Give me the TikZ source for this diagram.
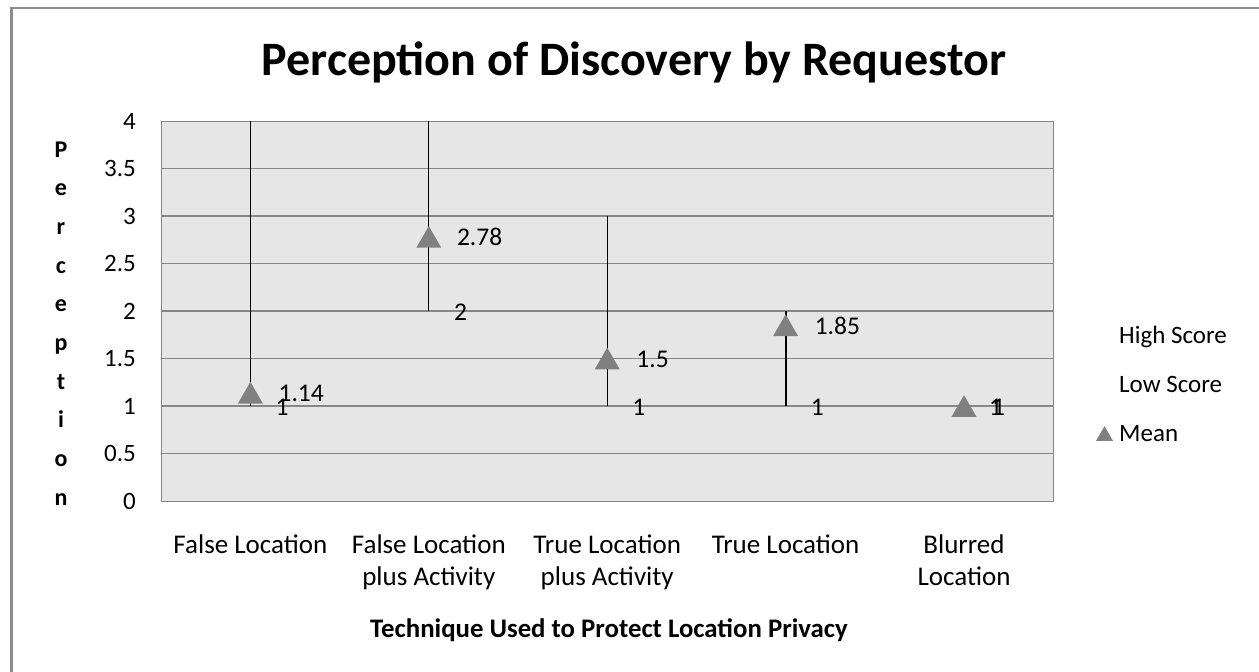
\documentclass[tikz,border=0pt]{standalone}
\usepackage{fontspec}
\setmainfont{Carlito}
\usetikzlibrary{shapes.geometric}
\definecolor{plotbg}{RGB}{230,230,230}
\definecolor{gridgray}{RGB}{134,134,134}
\definecolor{markgray}{RGB}{128,128,128}
\definecolor{framegray}{RGB}{140,140,140}
\begin{document}
\begin{tikzpicture}[x=1pt,y=-1pt,
  gridminor/.style={draw=gridgray, line width=1pt},
  gridmajor/.style={draw=gridgray, line width=1.7pt},
  hiloline/.style={draw=black, line width=1.1pt},
  meanmark/.style={regular polygon, regular polygon sides=3, fill=markgray,
    draw=none, minimum size=28.9pt, inner sep=0pt, yshift=-3.6pt},
  ticklab/.style={font=\fontsize{25}{30}\selectfont, anchor=base east, inner sep=0pt},
  vallab/.style={font=\fontsize{25.5}{30}\selectfont, anchor=base west, inner sep=0pt},
  catlab/.style={font=\fontsize{27}{32}\selectfont, anchor=base, inner sep=0pt},
  leglab/.style={font=\fontsize{25}{30}\selectfont, anchor=base west, inner sep=0pt},
  axtitle/.style={font=\bfseries\fontsize{24}{28}\selectfont, anchor=base, inner sep=0pt}]
\useasboundingbox (0,0) rectangle (1259,672);
\fill[white] (0,0) rectangle (1259,672);

% chart frame (left and top edges)
\draw[framegray, line width=3pt] (11.5,8) -- (11.5,672);
\draw[framegray, line width=1.2pt] (10,8) -- (1259,8);

% title
\node[font=\bfseries\fontsize{48}{56}\selectfont, anchor=base, inner sep=0pt] (title) at (634,75)
  {Perception of Discovery by Requestor};

% plot area
\fill[plotbg] (161,121) rectangle (1053,501);

\begin{scope}[shift={(0,501)}, y=95pt]
  % horizontal gridlines
  \foreach \v in {0.5,1.5,2.5,3.5} \draw[gridminor] (161,\v) -- (1053,\v);
  \foreach \v in {1,2,3} \draw[gridmajor] (161,\v) -- (1053,\v);
  \draw[gridgray, line width=1pt] (161,0) rectangle (1053,4);

  % high / low / mean points per technique
  \coordinate (hi1) at (250.4,4);   \coordinate (lo1) at (250.4,1);
  \coordinate (hi2) at (428.8,4);   \coordinate (lo2) at (428.8,2);
  \coordinate (hi3) at (607.2,3);   \coordinate (lo3) at (607.2,1);
  \coordinate (hi4) at (785.6,2);   \coordinate (lo4) at (785.6,1);
  \coordinate (hi5) at (964,1);     \coordinate (lo5) at (964,1);

  % high-low lines
  \draw[hiloline] (hi1) -- (lo1);
  \draw[hiloline] (hi2) -- (lo2);
  \draw[hiloline] (hi3) -- (lo3);
  \draw[draw=black, line width=2pt] (hi4) -- (lo4);

  % mean markers
  \node[meanmark] (mean1) at (250.4,1.14) {};
  \node[meanmark] (mean2) at (428.8,2.78) {};
  \node[meanmark] (mean3) at (607.2,1.5) {};
  \node[meanmark] (mean4) at (785.6,1.85) {};
  \node[meanmark] (mean5) at (964,1) {};

  % tick labels
  \foreach \v/\t [count=\i] in {0/0,0.5/0.5,1/1,1.5/1.5,2/2,2.5/2.5,3/3,3.5/3.5,4/4}
    \node[ticklab] (tick\i) at ([yshift=-8pt]136,\v) {\t};
\end{scope}

% value labels: mean to the right of the marker, low value beside the low end
\node[vallab] (mlab1) at ([xshift=28pt,yshift=-9pt]mean1.center |- 0,392.7) {1.14};
\node[vallab] (llab1) at ([xshift=25pt,yshift=-9pt]lo1) {1};
\node[vallab] (mlab2) at ([xshift=28pt,yshift=-9pt]hi2 |- 0,236.9) {2.78};
\node[vallab] (llab2) at ([xshift=25pt,yshift=-9pt]lo2) {2};
\node[vallab] (mlab3) at ([xshift=29pt,yshift=-9pt]hi3 |- 0,358.5) {1.5};
\node[vallab] (llab3) at ([xshift=25pt,yshift=-9pt]lo3) {1};
\node[vallab] (mlab4) at ([xshift=29pt,yshift=-9pt]hi4 |- 0,325.25) {1.85};
\node[vallab] (llab4) at ([xshift=25pt,yshift=-9pt]lo4) {1};
\node[vallab] (mlab5) at ([xshift=28pt,yshift=-9pt]lo5) {1};
\node[vallab] (llab5) at ([xshift=25pt,yshift=-9pt]lo5) {1};

% vertical axis title, one letter per line
\foreach \c [count=\k] in {P,e,r,c,e,p,t,i,o,n}
  \node[axtitle] (ylet\k) at (61,157+38.7*\k-38.7) {\c};

% category labels
\node[catlab] (cat1) at (250.4,553) {False Location};
\node[catlab] (cat2) at (428.8,553) {False Location};
\node[catlab] (cat2b) at (428.8,585) {plus Activity};
\node[catlab] (cat3) at (607.2,553) {True Location};
\node[catlab] (cat3b) at (607.2,585) {plus Activity};
\node[catlab] (cat4) at (785.6,553) {True Location};
\node[catlab] (cat5) at (964,553) {Blurred};
\node[catlab] (cat5b) at (964,585) {Location};

% horizontal axis title
\node[axtitle, font=\bfseries\fontsize{26.8}{30}\selectfont] (xtitle) at (609,637)
  {Technique Used to Protect Location Privacy};

% legend
\node[leglab] (leghi) at (1119,343.5) {High Score};
\node[leglab] (leglo) at (1119,392.5) {Low Score};
\node[regular polygon, regular polygon sides=3, fill=markgray, minimum size=19.6pt,
  inner sep=0pt] (legmark) at (1104.5,436) {};
\node[leglab] (legmean) at (1119,441.5) {Mean};
\end{tikzpicture}
\end{document}
